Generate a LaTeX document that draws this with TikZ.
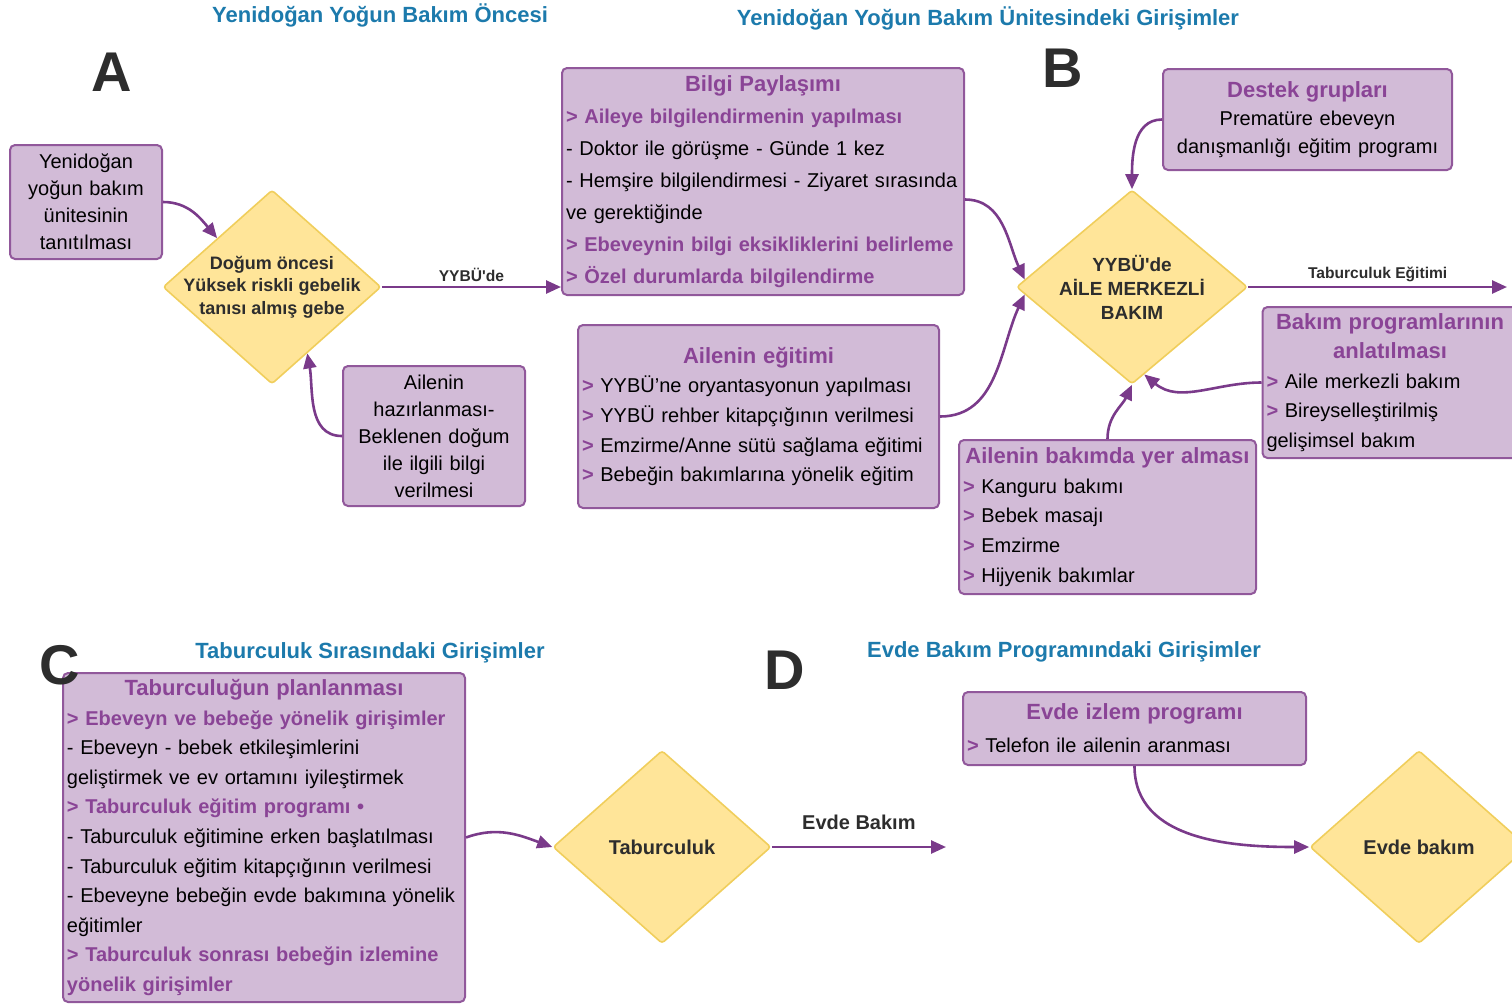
\documentclass[tikz,border=0pt]{standalone}
\usepackage{fontspec}
\setmainfont{Liberation Sans}
\usepackage{xcolor}
\usepackage{tikz}
\usetikzlibrary{shapes,shapes.geometric,arrows,arrows.meta}
\usetikzlibrary{positioning}
\setlength{\parindent}{0pt}

\definecolor{boxfill}{RGB}{210,187,215}
\definecolor{boxline}{RGB}{145,88,155}
\definecolor{headpurple}{RGB}{138,68,150}
\definecolor{arrowpurple}{RGB}{122,58,138}
\definecolor{dmdfill}{RGB}{255,229,153}
\definecolor{dmdline}{RGB}{240,206,92}
\definecolor{titleblue}{RGB}{28,122,172}
\definecolor{darktext}{RGB}{45,45,45}

\newcommand{\hd}[1]{{\centering\bfseries\fontsize{11}{14.5}\selectfont\color{headpurple}#1\par}}
\newcommand{\pk}{{\bfseries\color{headpurple}>}\ }
\newcommand{\bp}[1]{{\bfseries\color{headpurple}#1}}

\tikzstyle{infobox} = [rectangle, draw=boxline, fill=boxfill, line width=1pt,
    rounded corners=2.5pt, inner xsep=2pt, inner ysep=1pt, align=left,
    font=\fontsize{10}{14.8}\selectfont]
\tikzstyle{centerbox} = [infobox, align=center, font=\fontsize{10}{13.5}\selectfont]
\tikzstyle{decision} = [diamond, draw=dmdline, fill=dmdfill, line width=0.8pt,
    rounded corners=1.5pt, inner sep=0pt]
\tikzstyle{dtext} = [align=center, text=darktext, inner sep=0pt,
    font=\bfseries\fontsize{9}{11.3}\selectfont]
\tikzstyle{link} = [draw=arrowpurple, line width=1.3pt, -{Triangle[length=7.5pt,width=6.5pt]}]
\tikzstyle{lbl} = [text=darktext, inner sep=2pt, font=\bfseries\fontsize{7.8}{9}\selectfont]
\tikzstyle{title} = [text=titleblue, font=\bfseries\fontsize{11}{13}\selectfont]
\tikzstyle{letter} = [text=darktext, font=\bfseries\fontsize{28}{30}\selectfont]

\begin{document}
\begin{tikzpicture}[x=0.5pt,y=-0.5pt]
\useasboundingbox (0,0) rectangle (1512,1003);
\clip (0,0) rectangle (1512,1003);

% section titles
\node [title] (titleA) at (380,15) {Yenidoğan Yoğun Bakım Öncesi};
\node [title] (titleB) at (988,18) {Yenidoğan Yoğun Bakım Ünitesindeki Girişimler};
\node [title] (titleC) at (370,653) {Taburculuk Sırasındaki Girişimler};
\node [title] (titleD) at (1064,652) {Evde Bakım Programındaki Girişimler};
\node [letter] (A) at (112,72) {A};
\node [letter] (B) at (1063,68) {B};
\node [letter] (D) at (785,670) {D};

% A: before the NICU
\node [centerbox, minimum width=76pt, minimum height=57pt, text width=72pt] (tanitim) at (86,202)
    {Yenidoğan\\yoğun bakım\\ünitesinin\\tanıtılması};
\node [decision, minimum width=109pt, minimum height=97pt] (gebe) at (272,287) {};
\node [dtext] (gebetxt) at (gebe) {Doğum öncesi\\Yüksek riskli gebelik\\tanısı almış gebe};
\node [centerbox, minimum width=91pt, minimum height=70pt, text width=87pt] (hazir) at (434,436)
    {Ailenin\\hazırlanması-\\Beklenen doğum\\ile ilgili bilgi\\verilmesi};

% B: in the NICU
\node [infobox, minimum width=201pt, minimum height=113.5pt, text width=197pt,
    font=\fontsize{10}{16}\selectfont] (bilgi) at (763,181.5)
    {\hd{Bilgi Paylaşımı}
     \bp{> Aileye bilgilendirmenin yapılması}\\
     - Doktor ile görüşme - Günde 1 kez\\
     - Hemşire bilgilendirmesi - Ziyaret sırasında\\
     ve gerektiğinde\\
     \bp{> Ebeveynin bilgi eksikliklerini belirleme}\\
     \bp{> Özel durumlarda bilgilendirme}};
\node [infobox, minimum width=180.5pt, minimum height=91.5pt, text width=176.5pt] (egitim) at (758.5,416.5)
    {\hd{Ailenin eğitimi}
     \pk YYBÜ’ne oryantasyonun yapılması\\
     \pk YYBÜ rehber kitapçığının verilmesi\\
     \pk Emzirme/Anne sütü sağlama eğitimi\\
     \pk Bebeğin bakımlarına yönelik eğitim};
\node [centerbox, minimum width=144.5pt, minimum height=50.5pt, text width=140.5pt,
    font=\fontsize{10}{14}\selectfont] (destek) at (1307.5,119.5)
    {\hd{Destek grupları}
     Prematüre ebeveyn\\danışmanlığı eğitim programı};
\node [decision, minimum width=115.5pt, minimum height=97pt] (aile) at (1132,287) {};
\node [dtext, font=\bfseries\fontsize{9.5}{12}\selectfont] (ailetxt) at (aile)
    {YYBÜ\textquotesingle de\\AİLE MERKEZLİ\\BAKIM};
\node [infobox, minimum width=127.5pt, minimum height=75.5pt, text width=123.5pt] (bakprog) at (1390,382.5)
    {\hd{Bakım programlarının\\anlatılması}
     \pk Aile merkezli bakım\\
     \pk Bireyselleştirilmiş\\
     gelişimsel bakım};
\node [infobox, minimum width=148.5pt, minimum height=77pt, text width=144.5pt] (bakimda) at (1107.5,517)
    {\hd{Ailenin bakımda yer alması}
     \pk Kanguru bakımı\\
     \pk Bebek masajı\\
     \pk Emzirme\\
     \pk Hijyenik bakımlar};
\coordinate (tabend) at (1507,287);

% C: discharge
\node [infobox, minimum width=201pt, minimum height=164.5pt, text width=197pt] (plan) at (264,837.5)
    {\hd{Taburculuğun planlanması}
     \bp{> Ebeveyn ve bebeğe yönelik girişimler}\\
     - Ebeveyn - bebek etkileşimlerini\\
     geliştirmek ve ev ortamını iyileştirmek\\
     \bp{> Taburculuk eğitim programı •}\\
     - Taburculuk eğitimine erken başlatılması\\
     - Taburculuk eğitim kitapçığının verilmesi\\
     - Ebeveyne bebeğin evde bakımına yönelik\\
     eğitimler\\
     \bp{> Taburculuk sonrası bebeğin izlemine}\\
     \bp{yönelik girişimler}};
\node [letter] (C) at (60,665) {C};
\node [decision, minimum width=109pt, minimum height=96.5pt] (taburcu) at (662,847) {};
\node [dtext, font=\bfseries\fontsize{10}{12}\selectfont] (taburcutxt) at (taburcu) {Taburculuk};
\coordinate (evdeend) at (946,847);

% D: home care
\node [infobox, minimum width=171.5pt, minimum height=36.5pt, text width=167.5pt,
    font=\fontsize{10}{16.5}\selectfont] (izlem) at (1134.5,728.5)
    {\hd{Evde izlem programı}
     \pk Telefon ile ailenin aranması};
\node [decision, minimum width=109pt, minimum height=96.5pt] (evde) at (1419,847) {};
\node [dtext, font=\bfseries\fontsize{10}{12}\selectfont] (evdetxt) at (evde) {Evde bakım};

% connectors
\draw [link] (tanitim.east) to[out=0,in=130] (gebe.north west);
\draw [link] (gebe.east) -- node[lbl,above] {YYBÜ\textquotesingle de} (gebe.east -| bilgi.west);
\draw [link] (hazir.west) to[out=180,in=-80] (gebe.-62);
\draw [link] ([yshift=-9pt]bilgi.east) to[out=0,in=115] (aile.176);
\draw [link] (egitim.east) to[out=0,in=-115] (aile.184);
\draw [link] (destek.west) to[out=180,in=90] (aile.north);
\draw [link] (aile.east) -- node[lbl,above] {Taburculuk Eğitimi} (tabend);
\draw [link] (bakprog.west) to[out=180,in=-40] (aile.-82);
\draw [link] (bakimda.north) to[out=90,in=-115] (aile.south);
\draw [link] (plan.east) to[out=20,in=160] (taburcu.west);
\draw [link] (taburcu.east) -- node[lbl,above=6pt,font=\bfseries\fontsize{10}{12}\selectfont] {Evde Bakım} (evdeend);
\draw [link] (izlem.south) to[out=-90,in=180] (evde.west);

\end{tikzpicture}
\end{document}
